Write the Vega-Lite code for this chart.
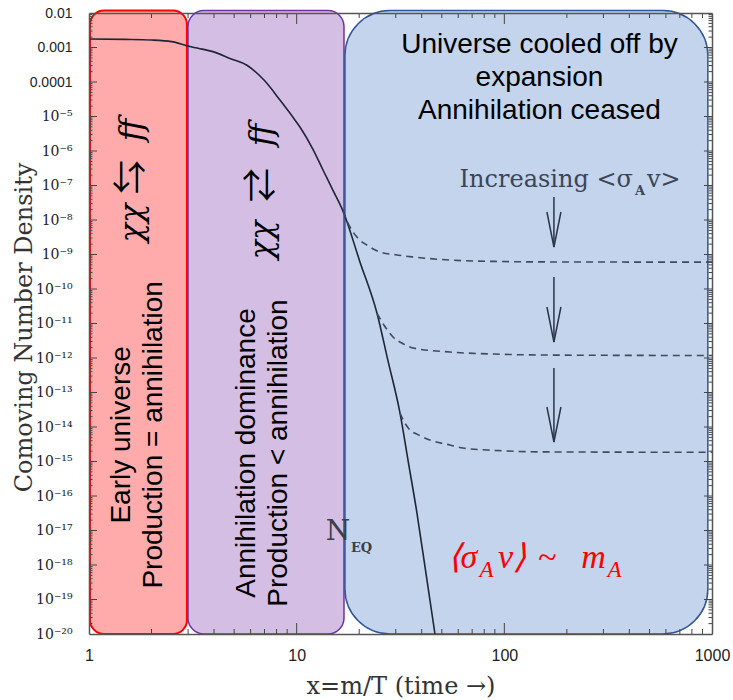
{
  "$schema": "https://vega.github.io/schema/vega-lite/v6.json",
  "width": 623,
  "height": 621,
  "autosize": "none",
  "padding": {"left": 89, "top": 13, "right": 21, "bottom": 66},
  "background": "white",
  "config": {"view": {"stroke": null}, "axis": {"grid": false, "zindex": 1}},
  "datasets": {
    "boxes": [
      {"region": "early", "x1": 1.011, "x2": 2.963, "y1": 0.0118, "y2": 1e-20},
      {"region": "dominance", "x1": 2.996, "x2": 16.9, "y1": 0.0118, "y2": 1e-20},
      {"region": "cooled", "x1": 17.08, "x2": 955, "y1": 0.0118, "y2": 1e-20}
    ],
    "curve": [
      {"x": 1.0, "y": 1.76e-3}, {"x": 1.5, "y": 1.72e-3}, {"x": 2.0, "y": 1.65e-3},
      {"x": 2.5, "y": 1.48e-3}, {"x": 2.96, "y": 1.13e-3}, {"x": 3.5, "y": 8.97e-4},
      {"x": 3.95, "y": 7.6e-4}, {"x": 4.8, "y": 4.75e-4}, {"x": 5.76, "y": 3.05e-4},
      {"x": 7.0, "y": 1.1e-4}, {"x": 8.31, "y": 3.0e-5}, {"x": 9.6, "y": 9.5e-6},
      {"x": 10.37, "y": 4.96e-6}, {"x": 12.0, "y": 1.1e-6}, {"x": 13.39, "y": 2.81e-7},
      {"x": 15.0, "y": 7.0e-8}, {"x": 16.71, "y": 1.82e-8}, {"x": 20.17, "y": 6.1e-10},
      {"x": 24.35, "y": 2.01e-11}, {"x": 27.5, "y": 8.5e-13}, {"x": 31.44, "y": 2.55e-14},
      {"x": 34.5, "y": 9.5e-16}, {"x": 37.95, "y": 3.21e-17}, {"x": 42.0, "y": 5.4e-19},
      {"x": 46.34, "y": 1.0e-20}
    ],
    "dashed": [
      {"series": "a", "x": 16.71, "y": 1.82e-8}, {"series": "a", "x": 18.0, "y": 6.5e-9},
      {"series": "a", "x": 19.5, "y": 3.2e-9}, {"series": "a", "x": 22.0, "y": 1.8e-9},
      {"series": "a", "x": 25.2, "y": 1.18e-9}, {"series": "a", "x": 30.0, "y": 9.8e-10},
      {"series": "a", "x": 36.3, "y": 8.5e-10}, {"series": "a", "x": 54.7, "y": 6.9e-10},
      {"series": "a", "x": 90, "y": 6.3e-10}, {"series": "a", "x": 150, "y": 6.1e-10},
      {"series": "a", "x": 1000, "y": 6.0e-10},
      {"series": "b", "x": 24.35, "y": 2.01e-11}, {"series": "b", "x": 26.5, "y": 8.5e-12},
      {"series": "b", "x": 29.1, "y": 4.06e-12}, {"series": "b", "x": 32.5, "y": 2.6e-12},
      {"series": "b", "x": 36.3, "y": 1.95e-12}, {"series": "b", "x": 54.7, "y": 1.49e-12},
      {"series": "b", "x": 90, "y": 1.3e-12}, {"series": "b", "x": 150, "y": 1.22e-12},
      {"series": "b", "x": 1000, "y": 1.18e-12},
      {"series": "c", "x": 31.44, "y": 2.55e-14}, {"series": "c", "x": 33.2, "y": 1.3e-14},
      {"series": "c", "x": 35.1, "y": 8.2e-15}, {"series": "c", "x": 37.95, "y": 6.2e-15},
      {"series": "c", "x": 43.8, "y": 4.2e-15}, {"series": "c", "x": 54.7, "y": 3.0e-15},
      {"series": "c", "x": 63.2, "y": 2.46e-15}, {"series": "c", "x": 90, "y": 2.1e-15},
      {"series": "c", "x": 150, "y": 1.9e-15}, {"series": "c", "x": 1000, "y": 1.85e-15}
    ],
    "arrows": [
      {"x": 173.3, "y1": 4.64e-8, "y2": 1.65e-9},
      {"x": 173.3, "y1": 2.23e-10, "y2": 2.91e-12},
      {"x": 173.3, "y1": 5.13e-13, "y2": 3.67e-15}
    ],
    "xticksMajor": [{"v": 10}, {"v": 100}],
    "xticksMinor": [{"v": 2}, {"v": 3}, {"v": 4}, {"v": 5}, {"v": 6}, {"v": 7}, {"v": 8}, {"v": 9},
      {"v": 20}, {"v": 30}, {"v": 40}, {"v": 50}, {"v": 60}, {"v": 70}, {"v": 80}, {"v": 90},
      {"v": 200}, {"v": 300}, {"v": 400}, {"v": 500}, {"v": 600}, {"v": 700}, {"v": 800}, {"v": 900}],
    "yticksMajor": [{"v": 1e-3}, {"v": 1e-4}, {"v": 1e-5}, {"v": 1e-6}, {"v": 1e-7}, {"v": 1e-8}, {"v": 1e-9}, {"v": 1e-10}, {"v": 1e-11}, {"v": 1e-12}, {"v": 1e-13}, {"v": 1e-14}, {"v": 1e-15}, {"v": 1e-16}, {"v": 1e-17}, {"v": 1e-18}, {"v": 1e-19}],
    "yticksMinor": [{"v":2e-20},{"v":3e-20},{"v":4e-20},{"v":5e-20},{"v":6e-20},{"v":7e-20},{"v":8e-20},{"v":9e-20},{"v":2e-19},{"v":3e-19},{"v":4e-19},{"v":5e-19},{"v":6e-19},{"v":7e-19},{"v":8e-19},{"v":9e-19},{"v":2e-18},{"v":3e-18},{"v":4e-18},{"v":5e-18},{"v":6e-18},{"v":7e-18},{"v":8e-18},{"v":9e-18},{"v":2e-17},{"v":3e-17},{"v":4e-17},{"v":5e-17},{"v":6e-17},{"v":7e-17},{"v":8e-17},{"v":9e-17},{"v":2e-16},{"v":3e-16},{"v":4e-16},{"v":5e-16},{"v":6e-16},{"v":7e-16},{"v":8e-16},{"v":9e-16},{"v":2e-15},{"v":3e-15},{"v":4e-15},{"v":5e-15},{"v":6e-15},{"v":7e-15},{"v":8e-15},{"v":9e-15},{"v":2e-14},{"v":3e-14},{"v":4e-14},{"v":5e-14},{"v":6e-14},{"v":7e-14},{"v":8e-14},{"v":9e-14},{"v":2e-13},{"v":3e-13},{"v":4e-13},{"v":5e-13},{"v":6e-13},{"v":7e-13},{"v":8e-13},{"v":9e-13},{"v":2e-12},{"v":3e-12},{"v":4e-12},{"v":5e-12},{"v":6e-12},{"v":7e-12},{"v":8e-12},{"v":9e-12},{"v":2e-11},{"v":3e-11},{"v":4e-11},{"v":5e-11},{"v":6e-11},{"v":7e-11},{"v":8e-11},{"v":9e-11},{"v":2e-10},{"v":3e-10},{"v":4e-10},{"v":5e-10},{"v":6e-10},{"v":7e-10},{"v":8e-10},{"v":9e-10},{"v":2e-9},{"v":3e-9},{"v":4e-9},{"v":5e-9},{"v":6e-9},{"v":7e-9},{"v":8e-9},{"v":9e-9},{"v":2e-8},{"v":3e-8},{"v":4e-8},{"v":5e-8},{"v":6e-8},{"v":7e-8},{"v":8e-8},{"v":9e-8},{"v":2e-7},{"v":3e-7},{"v":4e-7},{"v":5e-7},{"v":6e-7},{"v":7e-7},{"v":8e-7},{"v":9e-7},{"v":2e-6},{"v":3e-6},{"v":4e-6},{"v":5e-6},{"v":6e-6},{"v":7e-6},{"v":8e-6},{"v":9e-6},{"v":2e-5},{"v":3e-5},{"v":4e-5},{"v":5e-5},{"v":6e-5},{"v":7e-5},{"v":8e-5},{"v":9e-5},{"v":2e-4},{"v":3e-4},{"v":4e-4},{"v":5e-4},{"v":6e-4},{"v":7e-4},{"v":8e-4},{"v":9e-4},{"v":2e-3},{"v":3e-3},{"v":4e-3},{"v":5e-3},{"v":6e-3},{"v":7e-3},{"v":8e-3},{"v":9e-3}]
  },
  "resolve": {"axis": {"x": "independent", "y": "independent"}},
  "layer": [
    {
      "data": {"name": "boxes"},
      "transform": [{"filter": "datum.region == 'early'"}],
      "mark": {"type": "rect", "fill": "#FFABAB", "stroke": "#FF0000", "strokeWidth": 2, "cornerRadius": 14},
      "encoding": {
        "x": {"field": "x1", "type": "quantitative", "scale": {"type": "log", "domain": [1, 1000], "nice": false},
          "axis": {"orient": "bottom", "values": [1, 10, 100, 1000], "labelExpr": "'' + round(datum.value)",
            "ticks": false, "domain": true, "domainColor": "#555", "domainWidth": 1.5,
            "labelFont": "Liberation Sans", "labelFontSize": 16, "labelColor": "#222", "labelPadding": 13,
            "labelFlush": false, "labelOverlap": false,
            "title": "x=m/T (time →)", "titleFont": "DejaVu Serif", "titleFontSize": 24, "titleFontWeight": "normal",
            "titleColor": "#333", "titleBaseline": "middle", "titleY": 52, "grid": false, "zindex": 1}},
        "x2": {"field": "x2"},
        "y": {"field": "y1", "type": "quantitative", "scale": {"type": "log", "domain": [1e-20, 0.01], "nice": false},
          "axis": {"orient": "left", "values": [0.01, 0.001, 0.0001, 1e-5, 1e-6, 1e-7, 1e-8, 1e-9, 1e-10, 1e-11, 1e-12, 1e-13, 1e-14, 1e-15, 1e-16, 1e-17, 1e-18, 1e-19, 1e-20],
            "labelExpr": "datum.value > 0.005 ? '0.01' : datum.value > 0.0005 ? '0.001' : datum.value > 0.00005 ? '0.0001' : '10⁻' + ['⁵','⁶','⁷','⁸','⁹','¹⁰','¹¹','¹²','¹³','¹⁴','¹⁵','¹⁶','¹⁷','¹⁸','¹⁹','²⁰'][round(-log(datum.value)/LN10) - 5]",
            "labelFont": {"condition": {"test": "datum.value > 0.00005", "value": "Liberation Sans"}, "value": "DejaVu Serif"},
            "ticks": false, "domain": true, "domainColor": "#555", "domainWidth": 1.5,
            "labelFontSize": 14, "labelColor": "#222", "labelPadding": 17, "labelFlush": false, "labelOverlap": false,
            "title": "Comoving Number Density", "titleFont": "DejaVu Serif", "titleFontSize": 24, "titleFontWeight": "normal",
            "titleColor": "#333", "titleAngle": -90, "titleBaseline": "middle", "titleAlign": "center",
            "titleX": -65, "titleY": 314, "grid": false, "zindex": 1}},
        "y2": {"field": "y2"}
      }
    },
    {
      "data": {"name": "boxes"},
      "transform": [{"filter": "datum.region == 'dominance'"}],
      "mark": {"type": "rect", "fill": "#D4BEE4", "stroke": "#7030A0", "strokeWidth": 1.5, "cornerRadius": 16},
      "encoding": {
        "x": {"field": "x1", "type": "quantitative", "scale": {"type": "log", "domain": [1, 1000], "nice": false}, "axis": null},
        "x2": {"field": "x2"},
        "y": {"field": "y1", "type": "quantitative", "scale": {"type": "log", "domain": [1e-20, 0.01], "nice": false}, "axis": null},
        "y2": {"field": "y2"}
      }
    },
    {
      "data": {"name": "boxes"},
      "transform": [{"filter": "datum.region == 'cooled'"}],
      "mark": {"type": "rect", "fill": "#C4D4EC", "stroke": "#2F5597", "strokeWidth": 1.5, "cornerRadius": 45},
      "encoding": {
        "x": {"field": "x1", "type": "quantitative", "scale": {"type": "log", "domain": [1, 1000], "nice": false}, "axis": null},
        "x2": {"field": "x2"},
        "y": {"field": "y1", "type": "quantitative", "scale": {"type": "log", "domain": [1e-20, 0.01], "nice": false}, "axis": null},
        "y2": {"field": "y2"}
      }
    },
    {
      "data": {"name": "curve"},
      "mark": {"type": "line", "color": "#1f2535", "strokeWidth": 1.6, "interpolate": "monotone"},
      "encoding": {
        "x": {"field": "x", "type": "quantitative", "scale": {"type": "log", "domain": [1, 1000], "nice": false}, "axis": null},
        "y": {"field": "y", "type": "quantitative", "scale": {"type": "log", "domain": [1e-20, 0.01], "nice": false}, "axis": null}
      }
    },
    {
      "data": {"name": "dashed"},
      "mark": {"type": "line", "color": "#3e4a5e", "strokeWidth": 1.6, "strokeDash": [7, 5], "interpolate": "monotone"},
      "encoding": {
        "detail": {"field": "series"},
        "x": {"field": "x", "type": "quantitative", "scale": {"type": "log", "domain": [1, 1000], "nice": false}, "axis": null},
        "y": {"field": "y", "type": "quantitative", "scale": {"type": "log", "domain": [1e-20, 0.01], "nice": false}, "axis": null}
      }
    },
    {
      "data": {"name": "arrows"},
      "mark": {"type": "rule", "color": "#2b3547", "strokeWidth": 1.5},
      "encoding": {
        "x": {"field": "x", "type": "quantitative", "scale": {"type": "log", "domain": [1, 1000], "nice": false},
          "axis": {"orient": "top", "ticks": false, "labels": false, "domain": true, "domainColor": "#555", "domainWidth": 1.5, "title": null, "grid": false, "zindex": 1}},
        "y": {"field": "y1", "type": "quantitative", "scale": {"type": "log", "domain": [1e-20, 0.01], "nice": false},
          "axis": {"orient": "right", "ticks": false, "labels": false, "domain": true, "domainColor": "#555", "domainWidth": 1.5, "title": null, "grid": false, "zindex": 1}},
        "y2": {"field": "y2"}
      }
    },
    {
      "data": {"name": "arrows"},
      "mark": {"type": "point", "shape": "M-0.4,-1L0,1L0.4,-1", "size": 1225, "filled": false, "stroke": "#2b3547", "strokeWidth": 1.5, "opacity": 1, "yOffset": -17.5},
      "encoding": {
        "x": {"field": "x", "type": "quantitative", "scale": {"type": "log", "domain": [1, 1000], "nice": false}, "axis": null},
        "y": {"field": "y2", "type": "quantitative", "scale": {"type": "log", "domain": [1e-20, 0.01], "nice": false}, "axis": null}
      }
    },
    {
      "data": {"name": "yticksMajor"},
      "mark": {"type": "rule", "color": "#444", "strokeWidth": 1},
      "encoding": {
        "y": {"field": "v", "type": "quantitative", "scale": {"type": "log", "domain": [1e-20, 0.01], "nice": false}, "axis": null},
        "x": {"datum": 1, "type": "quantitative", "scale": {"type": "log", "domain": [1, 1000], "nice": false}, "axis": null},
        "x2": {"datum": 1.093}
      }
    },
    {
      "data": {"name": "yticksMajor"},
      "mark": {"type": "rule", "color": "#444", "strokeWidth": 1},
      "encoding": {
        "y": {"field": "v", "type": "quantitative", "scale": {"type": "log", "domain": [1e-20, 0.01], "nice": false}, "axis": null},
        "x": {"datum": 914.9, "type": "quantitative", "scale": {"type": "log", "domain": [1, 1000], "nice": false}, "axis": null},
        "x2": {"datum": 1000}
      }
    },
    {
      "data": {"name": "yticksMinor"},
      "mark": {"type": "rule", "color": "#444", "strokeWidth": 1},
      "encoding": {
        "y": {"field": "v", "type": "quantitative", "scale": {"type": "log", "domain": [1e-20, 0.01], "nice": false}, "axis": null},
        "x": {"datum": 1, "type": "quantitative", "scale": {"type": "log", "domain": [1, 1000], "nice": false}, "axis": null},
        "x2": {"datum": 1.0396}
      }
    },
    {
      "data": {"name": "yticksMinor"},
      "mark": {"type": "rule", "color": "#444", "strokeWidth": 1},
      "encoding": {
        "y": {"field": "v", "type": "quantitative", "scale": {"type": "log", "domain": [1e-20, 0.01], "nice": false}, "axis": null},
        "x": {"datum": 961.9, "type": "quantitative", "scale": {"type": "log", "domain": [1, 1000], "nice": false}, "axis": null},
        "x2": {"datum": 1000}
      }
    },
    {
      "data": {"name": "xticksMajor"},
      "mark": {"type": "rule", "color": "#444", "strokeWidth": 1},
      "encoding": {
        "x": {"field": "v", "type": "quantitative", "scale": {"type": "log", "domain": [1, 1000], "nice": false}, "axis": null},
        "y": {"datum": 1e-20, "type": "quantitative", "scale": {"type": "log", "domain": [1e-20, 0.01], "nice": false}, "axis": null},
        "y2": {"datum": 2.083e-20}
      }
    },
    {
      "data": {"name": "xticksMajor"},
      "mark": {"type": "rule", "color": "#444", "strokeWidth": 1},
      "encoding": {
        "x": {"field": "v", "type": "quantitative", "scale": {"type": "log", "domain": [1, 1000], "nice": false}, "axis": null},
        "y": {"datum": 0.0048, "type": "quantitative", "scale": {"type": "log", "domain": [1e-20, 0.01], "nice": false}, "axis": null},
        "y2": {"datum": 0.01}
      }
    },
    {
      "data": {"name": "xticksMinor"},
      "mark": {"type": "rule", "color": "#444", "strokeWidth": 1},
      "encoding": {
        "x": {"field": "v", "type": "quantitative", "scale": {"type": "log", "domain": [1, 1000], "nice": false}, "axis": null},
        "y": {"datum": 1e-20, "type": "quantitative", "scale": {"type": "log", "domain": [1e-20, 0.01], "nice": false}, "axis": null},
        "y2": {"datum": 1.396e-20}
      }
    },
    {
      "data": {"name": "xticksMinor"},
      "mark": {"type": "rule", "color": "#444", "strokeWidth": 1},
      "encoding": {
        "x": {"field": "v", "type": "quantitative", "scale": {"type": "log", "domain": [1, 1000], "nice": false}, "axis": null},
        "y": {"datum": 0.007163, "type": "quantitative", "scale": {"type": "log", "domain": [1e-20, 0.01], "nice": false}, "axis": null},
        "y2": {"datum": 0.01}
      }
    },
    {
      "data": {"values": [{"x": 147.6, "y": 1.18e-3, "t": "Universe cooled off by\nexpansion\nAnnihilation ceased"}]},
      "mark": {"type": "text", "font": "Liberation Sans", "fontSize": 28, "lineBreak": "\n", "lineHeight": 33, "align": "center", "baseline": "middle", "color": "#000"},
      "encoding": {
        "x": {"field": "x", "type": "quantitative", "scale": {"type": "log", "domain": [1, 1000], "nice": false}, "axis": null},
        "y": {"field": "y", "type": "quantitative", "scale": {"type": "log", "domain": [1e-20, 0.01], "nice": false}, "axis": null},
        "text": {"field": "t"}
      }
    },
    {
      "data": {"values": [
        {"x": 1.442, "y": 5.9e-15, "t": "Early universe\nProduction = annihilation"},
        {"x": 5.766, "y": 1.76e-15, "t": "Annihilation dominance\nProduction < annihilation"}
      ]},
      "mark": {"type": "text", "font": "Liberation Sans", "fontSize": 28, "lineBreak": "\n", "lineHeight": 32, "align": "center", "baseline": "middle", "angle": 270, "color": "#000"},
      "encoding": {
        "x": {"field": "x", "type": "quantitative", "scale": {"type": "log", "domain": [1, 1000], "nice": false}, "axis": null},
        "y": {"field": "y", "type": "quantitative", "scale": {"type": "log", "domain": [1e-20, 0.01], "nice": false}, "axis": null},
        "text": {"field": "t"}
      }
    },
    {
      "data": {"values": [
        {"x": 1.611, "y": 4.06e-6, "t": "ff"},
        {"x": 1.611, "y": 8.18e-9, "t": "χχ"},
        {"x": 6.81, "y": 2.91e-6, "t": "ff"},
        {"x": 6.81, "y": 2.63e-9, "t": "χχ"}
      ]},
      "mark": {"type": "text", "font": "DejaVu Serif", "fontStyle": "italic", "fontSize": 32, "align": "center", "baseline": "middle", "angle": 270, "color": "#000"},
      "encoding": {
        "x": {"field": "x", "type": "quantitative", "scale": {"type": "log", "domain": [1, 1000], "nice": false}, "axis": null},
        "y": {"field": "y", "type": "quantitative", "scale": {"type": "log", "domain": [1e-20, 0.01], "nice": false}, "axis": null},
        "text": {"field": "t"}
      }
    },
    {
      "data": {"values": [
        {"x": 1.611, "y": 1.76e-7, "t": "⇆"},
        {"x": 6.81, "y": 1.03e-7, "t": "⇄"}
      ]},
      "mark": {"type": "text", "font": "'Noto Sans CJK JP', 'DejaVu Sans'", "fontSize": 34, "align": "center", "baseline": "middle", "angle": 270, "color": "#000"},
      "encoding": {
        "x": {"field": "x", "type": "quantitative", "scale": {"type": "log", "domain": [1, 1000], "nice": false}, "axis": null},
        "y": {"field": "y", "type": "quantitative", "scale": {"type": "log", "domain": [1e-20, 0.01], "nice": false}, "axis": null},
        "text": {"field": "t"}
      }
    },
    {
      "data": {"values": [{"x": 15.81, "y": 5.3e-18, "t": "N"}]},
      "mark": {"type": "text", "font": "DejaVu Serif", "fontSize": 28, "align": "center", "baseline": "alphabetic", "color": "#3a3f4a"},
      "encoding": {
        "x": {"field": "x", "type": "quantitative", "scale": {"type": "log", "domain": [1, 1000], "nice": false}, "axis": null},
        "y": {"field": "y", "type": "quantitative", "scale": {"type": "log", "domain": [1e-20, 0.01], "nice": false}, "axis": null},
        "text": {"field": "t"}
      }
    },
    {
      "data": {"values": [{"x": 18.25, "y": 2.38e-18, "t": "EQ"}]},
      "mark": {"type": "text", "font": "DejaVu Serif", "fontSize": 13, "fontWeight": "bold", "align": "left", "baseline": "alphabetic", "color": "#3a3f4a"},
      "encoding": {
        "x": {"field": "x", "type": "quantitative", "scale": {"type": "log", "domain": [1, 1000], "nice": false}, "axis": null},
        "y": {"field": "y", "type": "quantitative", "scale": {"type": "log", "domain": [1e-20, 0.01], "nice": false}, "axis": null},
        "text": {"field": "t"}
      }
    },
    {
      "data": {"values": [{"x": 416.0, "y": 9.06e-8, "t": "Increasing <σ"}]},
      "mark": {"type": "text", "font": "DejaVu Serif", "fontSize": 24, "align": "right", "baseline": "alphabetic", "color": "#3b4458"},
      "encoding": {
        "x": {"field": "x", "type": "quantitative", "scale": {"type": "log", "domain": [1, 1000], "nice": false}, "axis": null},
        "y": {"field": "y", "type": "quantitative", "scale": {"type": "log", "domain": [1e-20, 0.01], "nice": false}, "axis": null},
        "text": {"field": "t"}
      }
    },
    {
      "data": {"values": [{"x": 486.0, "y": 9.06e-8, "t": "v>"}]},
      "mark": {"type": "text", "font": "DejaVu Serif", "fontSize": 24, "align": "left", "baseline": "alphabetic", "color": "#3b4458"},
      "encoding": {
        "x": {"field": "x", "type": "quantitative", "scale": {"type": "log", "domain": [1, 1000], "nice": false}, "axis": null},
        "y": {"field": "y", "type": "quantitative", "scale": {"type": "log", "domain": [1e-20, 0.01], "nice": false}, "axis": null},
        "text": {"field": "t"}
      }
    },
    {
      "data": {"values": [{"x": 449.7, "y": 5.3e-8, "t": "A"}]},
      "mark": {"type": "text", "font": "DejaVu Serif", "fontSize": 13, "fontWeight": "bold", "align": "center", "baseline": "alphabetic", "color": "#3b4458"},
      "encoding": {
        "x": {"field": "x", "type": "quantitative", "scale": {"type": "log", "domain": [1, 1000], "nice": false}, "axis": null},
        "y": {"field": "y", "type": "quantitative", "scale": {"type": "log", "domain": [1e-20, 0.01], "nice": false}, "axis": null},
        "text": {"field": "t"}
      }
    },
    {
      "data": {"values": [
        {"x": 62.85, "y": 8.18e-19, "t": "⟨σ"},
        {"x": 108.8, "y": 8.18e-19, "t": "v⟩"},
        {"x": 160.4, "y": 8.18e-19, "t": "~"},
        {"x": 268.5, "y": 8.18e-19, "t": "m"}
      ]},
      "mark": {"type": "text", "font": "Liberation Serif", "fontStyle": "italic", "fontSize": 34, "align": "center", "baseline": "alphabetic", "color": "#FF0000"},
      "encoding": {
        "x": {"field": "x", "type": "quantitative", "scale": {"type": "log", "domain": [1, 1000], "nice": false}, "axis": null},
        "y": {"field": "y", "type": "quantitative", "scale": {"type": "log", "domain": [1e-20, 0.01], "nice": false}, "axis": null},
        "text": {"field": "t"}
      }
    },
    {
      "data": {"values": [
        {"x": 82.0, "y": 4.49e-19, "t": "A"},
        {"x": 338.9, "y": 4.49e-19, "t": "A"}
      ]},
      "mark": {"type": "text", "font": "Liberation Serif", "fontStyle": "italic", "fontSize": 23, "align": "center", "baseline": "alphabetic", "color": "#FF0000"},
      "encoding": {
        "x": {"field": "x", "type": "quantitative", "scale": {"type": "log", "domain": [1, 1000], "nice": false}, "axis": null},
        "y": {"field": "y", "type": "quantitative", "scale": {"type": "log", "domain": [1e-20, 0.01], "nice": false}, "axis": null},
        "text": {"field": "t"}
      }
    }
  ]
}
